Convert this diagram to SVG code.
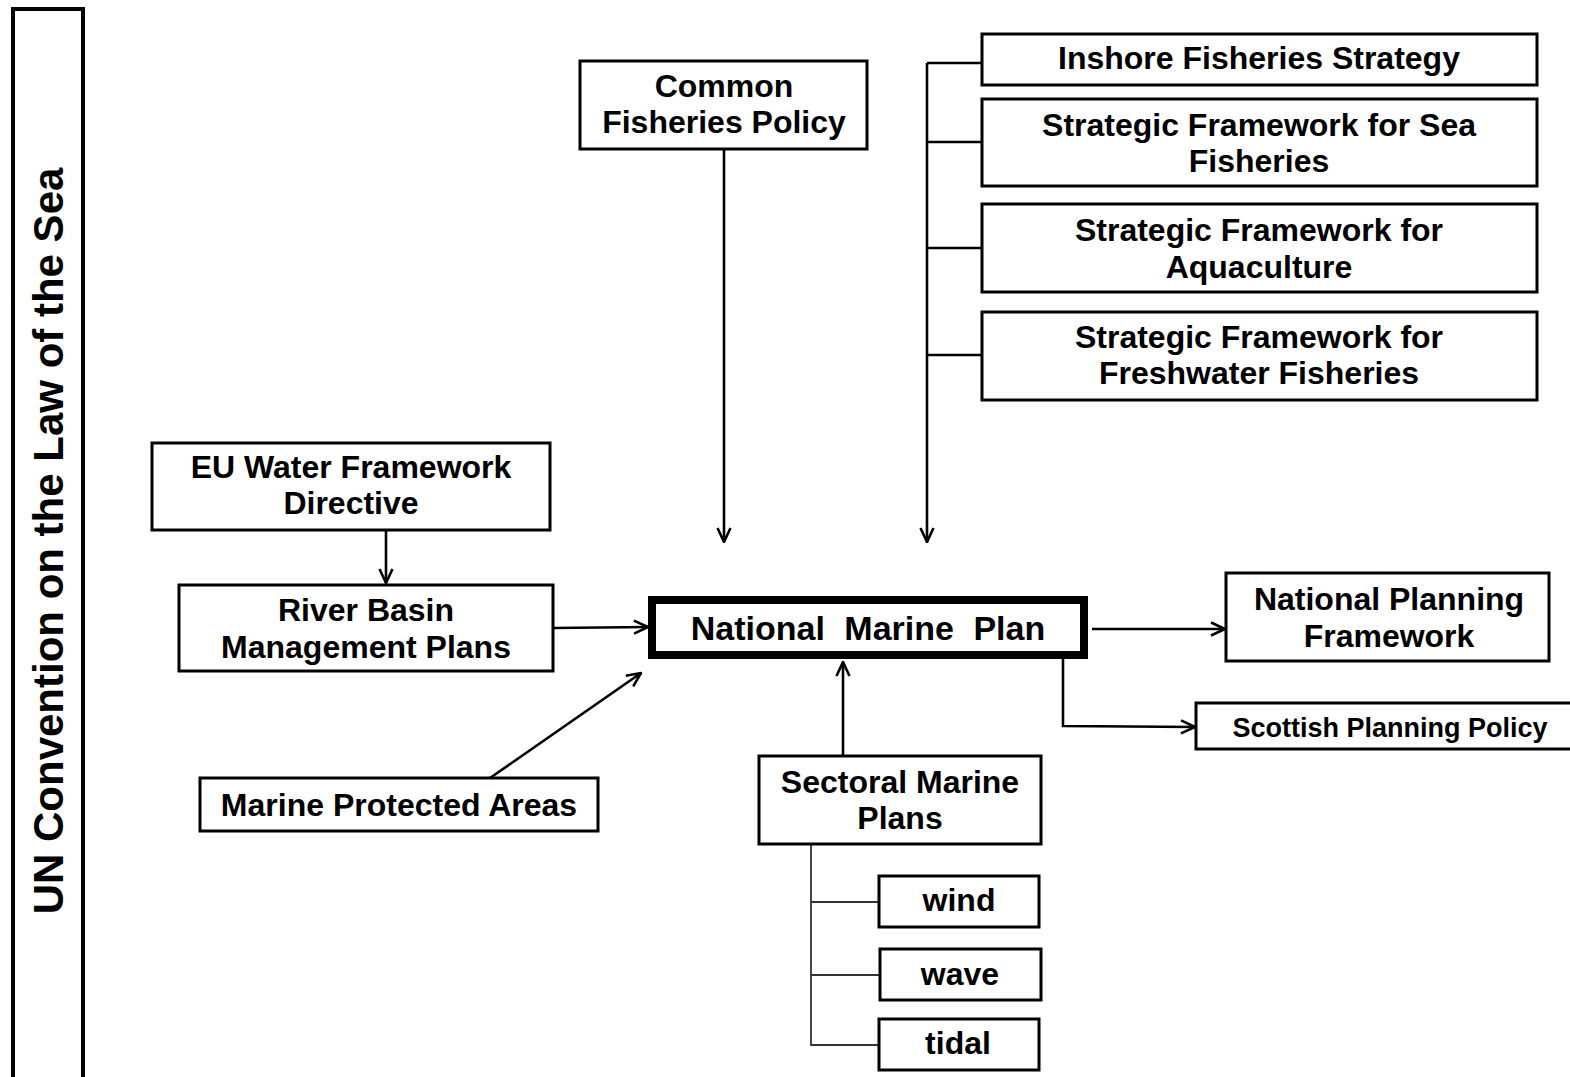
<svg xmlns="http://www.w3.org/2000/svg" width="1570" height="1077" viewBox="0 0 1570 1077">
<style>
text{font-family:"Liberation Sans",Arial,sans-serif;font-weight:bold;fill:#000;text-anchor:middle;}
.t{font-size:32px;}
.box{fill:#fff;stroke:#000;stroke-width:3;}
.c{fill:none;stroke:#000;stroke-width:2.6;}
.thin{fill:none;stroke:#333;stroke-width:1.8;}
</style>
<defs>
<marker id="ah" viewBox="0 0 16 16" refX="15" refY="8" markerWidth="16" markerHeight="16" markerUnits="userSpaceOnUse" orient="auto">
<path d="M1,1.5 L15,8 L1,14.5" fill="none" stroke="#000" stroke-width="2.6"/>
</marker>
</defs>
<rect width="1570" height="1077" fill="#fff"/>
<g id="unclos">
<rect x="13" y="9" width="70" height="1080" fill="#fff" stroke="#000" stroke-width="4"/>
<text transform="translate(63,541) rotate(-90)" style="font-size:42px">UN Convention on the Law of the Sea</text>
</g>
<g id="connectors">
<line class="c" x1="724" y1="149" x2="724" y2="542" marker-end="url(#ah)"/>
<line class="c" x1="927" y1="63" x2="927" y2="542" marker-end="url(#ah)"/>
<line class="c" x1="927" y1="63" x2="982" y2="63"/>
<line class="c" x1="927" y1="142" x2="982" y2="142"/>
<line class="c" x1="927" y1="248" x2="982" y2="248"/>
<line class="c" x1="927" y1="355" x2="982" y2="355"/>
<line class="c" x1="386" y1="530" x2="386" y2="583" marker-end="url(#ah)"/>
<line class="c" x1="553" y1="628" x2="648" y2="627" marker-end="url(#ah)"/>
<line class="c" x1="490" y1="778" x2="641" y2="673" marker-end="url(#ah)"/>
<line class="c" x1="1092" y1="629" x2="1225" y2="629" marker-end="url(#ah)"/>
<polyline class="c" points="1063,659 1063,726 1195,727" marker-end="url(#ah)"/>
<line class="c" x1="843" y1="755" x2="843" y2="662" marker-end="url(#ah)"/>
<polyline class="thin" points="811,844 811,1045 879,1045"/>
<line class="thin" x1="811" y1="902" x2="879" y2="902"/>
<line class="thin" x1="811" y1="975" x2="880" y2="975"/>
</g>
<g id="cfp">
<rect class="box" x="580" y="61" width="287" height="88"/>
<text class="t" x="724" y="97">Common</text>
<text class="t" x="724" y="133">Fisheries Policy</text>
</g>
<g id="inshore">
<rect class="box" x="982" y="34" width="555" height="51"/>
<text class="t" x="1259" y="69">Inshore Fisheries Strategy</text>
</g>
<g id="sfsea">
<rect class="box" x="982" y="99" width="555" height="87"/>
<text class="t" x="1259" y="136">Strategic Framework for Sea</text>
<text class="t" x="1259" y="172">Fisheries</text>
</g>
<g id="sfaqua">
<rect class="box" x="982" y="204" width="555" height="88"/>
<text class="t" x="1259" y="241">Strategic Framework for</text>
<text class="t" x="1259" y="278">Aquaculture</text>
</g>
<g id="sffresh">
<rect class="box" x="982" y="312" width="555" height="88"/>
<text class="t" x="1259" y="348">Strategic Framework for</text>
<text class="t" x="1259" y="384">Freshwater Fisheries</text>
</g>
<g id="euwfd">
<rect class="box" x="152" y="443" width="398" height="87"/>
<text class="t" x="351" y="478">EU Water Framework</text>
<text class="t" x="351" y="514">Directive</text>
</g>
<g id="rbmp">
<rect class="box" x="179" y="585" width="374" height="86"/>
<text class="t" x="366" y="621">River Basin</text>
<text class="t" x="366" y="658">Management Plans</text>
</g>
<g id="nmp">
<rect x="652" y="600" width="432" height="55" fill="#fff" stroke="#000" stroke-width="8"/>
<text x="868" y="640" style="font-size:34px;word-spacing:10px">National Marine Plan</text>
</g>
<g id="npf">
<rect class="box" x="1226" y="573" width="323" height="88"/>
<text class="t" x="1389" y="610">National Planning</text>
<text class="t" x="1389" y="647">Framework</text>
</g>
<g id="spp">
<rect class="box" x="1196" y="703" width="390" height="46"/>
<text x="1390" y="737" style="font-size:27px">Scottish Planning Policy</text>
</g>
<g id="mpa">
<rect class="box" x="200" y="778" width="398" height="53"/>
<text class="t" x="399" y="816">Marine Protected Areas</text>
</g>
<g id="smp">
<rect class="box" x="759" y="756" width="282" height="88"/>
<text class="t" x="900" y="793">Sectoral Marine</text>
<text class="t" x="900" y="829">Plans</text>
</g>
<g id="wind">
<rect class="box" x="879" y="876" width="160" height="51"/>
<text class="t" x="959" y="911">wind</text>
</g>
<g id="wave">
<rect class="box" x="880" y="949" width="161" height="51"/>
<text class="t" x="960" y="985">wave</text>
</g>
<g id="tidal">
<rect class="box" x="879" y="1019" width="160" height="51"/>
<text class="t" x="958" y="1054">tidal</text>
</g>
</svg>
